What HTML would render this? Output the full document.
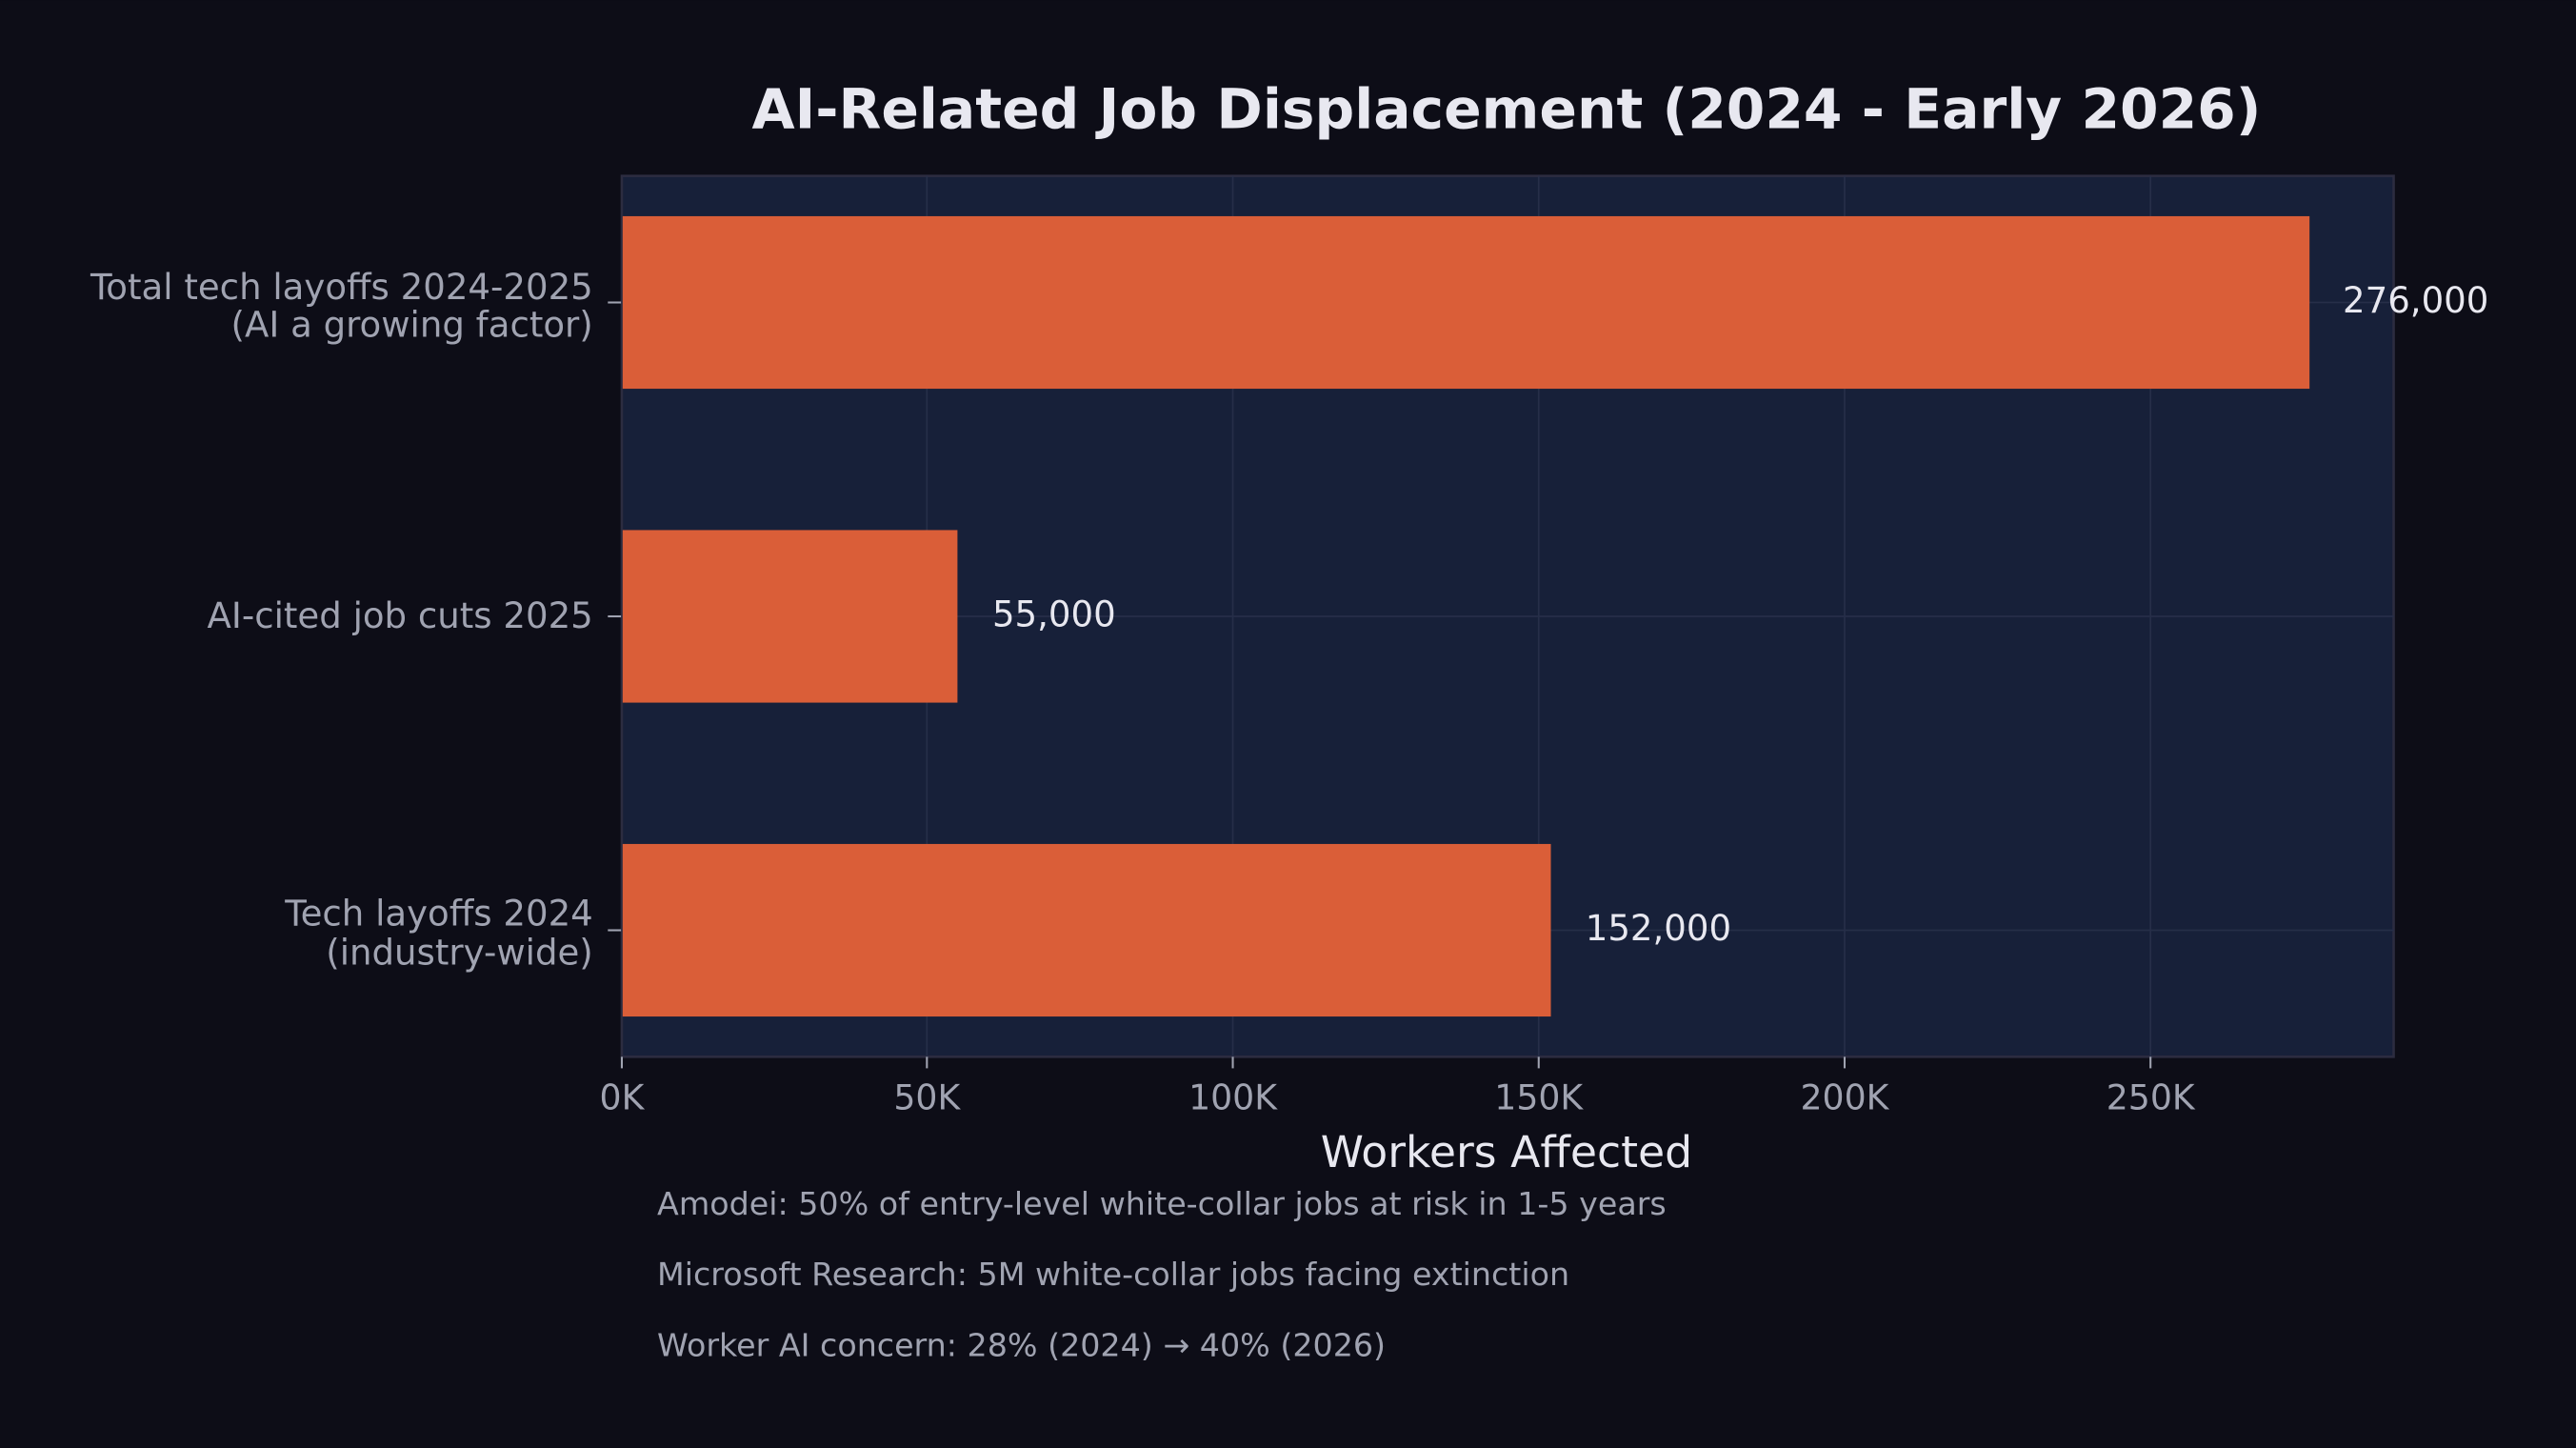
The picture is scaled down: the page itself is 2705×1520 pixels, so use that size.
<!DOCTYPE html>
<html><head><meta charset="utf-8"><style>html,body{margin:0;padding:0;background:#0d0d17;}svg{display:block;}</style></head>
<body>
<svg width="2705" height="1520" viewBox="0 0 1568 881" xmlns="http://www.w3.org/2000/svg" font-family="DejaVu Sans, Liberation Sans, sans-serif">
<rect width="1568" height="881" fill="#0d0d17"/>
<rect x="378.5" y="107" width="1078.5" height="536" fill="#172039" stroke="#2c2c40" stroke-width="1.5"/>
<g stroke="#262e48" stroke-width="1">
<line x1="564.2" y1="107" x2="564.2" y2="643"/>
<line x1="750.4" y1="107" x2="750.4" y2="643"/>
<line x1="936.6" y1="107" x2="936.6" y2="643"/>
<line x1="1122.8" y1="107" x2="1122.8" y2="643"/>
<line x1="1309" y1="107" x2="1309" y2="643"/>
<line x1="378" y1="184" x2="1457" y2="184"/>
<line x1="378" y1="375" x2="1457" y2="375"/>
<line x1="378" y1="566" x2="1457" y2="566"/>
</g>
<g fill="#da5e38">
<rect x="379" y="131.5" width="1026.8" height="105"/>
<rect x="379" y="322.5" width="203.8" height="105"/>
<rect x="379" y="513.5" width="565" height="105"/>
</g>
<g fill="#e8e8f0" font-size="21.5">
<text x="1426" y="190">276,000</text>
<text x="604" y="381">55,000</text>
<text x="965" y="572">152,000</text>
</g>
<g stroke="#a0a3b1" stroke-width="1.2">
<line x1="370" y1="184" x2="378" y2="184"/><line x1="370" y1="375" x2="378" y2="375"/><line x1="370" y1="566" x2="378" y2="566"/>
<line x1="378.5" y1="643" x2="378.5" y2="650"/><line x1="564.2" y1="643" x2="564.2" y2="650"/><line x1="750.4" y1="643" x2="750.4" y2="650"/><line x1="936.6" y1="643" x2="936.6" y2="650"/><line x1="1122.8" y1="643" x2="1122.8" y2="650"/><line x1="1309" y1="643" x2="1309" y2="650"/>
</g>
<g fill="#a0a3b1" font-size="21.5" text-anchor="end">
<text x="361" y="182">Total tech layoffs 2024-2025</text>
<text x="361" y="205">(AI a growing factor)</text>
<text x="361" y="382">AI-cited job cuts 2025</text>
<text x="361" y="563">Tech layoffs 2024</text>
<text x="361" y="587">(industry-wide)</text>
</g>
<g fill="#a0a3b1" font-size="21" text-anchor="middle">
<text x="378.5" y="675">0K</text><text x="564.2" y="675">50K</text><text x="750.4" y="675">100K</text><text x="936.6" y="675">150K</text><text x="1122.8" y="675">200K</text><text x="1309" y="675">250K</text>
</g>
<text x="917" y="710" fill="#e8e8f0" font-size="26.5" text-anchor="middle">Workers Affected</text>
<text x="917" y="78" fill="#e8e8f0" font-size="33.8" font-weight="bold" text-anchor="middle">AI-Related Job Displacement (2024 - Early 2026)</text>
<g fill="#a0a3b1" font-size="19.3">
<text x="400" y="739">Amodei: 50% of entry-level white-collar jobs at risk in 1-5 years</text>
<text x="400" y="782">Microsoft Research: 5M white-collar jobs facing extinction</text>
<text x="400" y="825">Worker AI concern: 28% (2024) → 40% (2026)</text>
</g>
</svg>
</body></html>
